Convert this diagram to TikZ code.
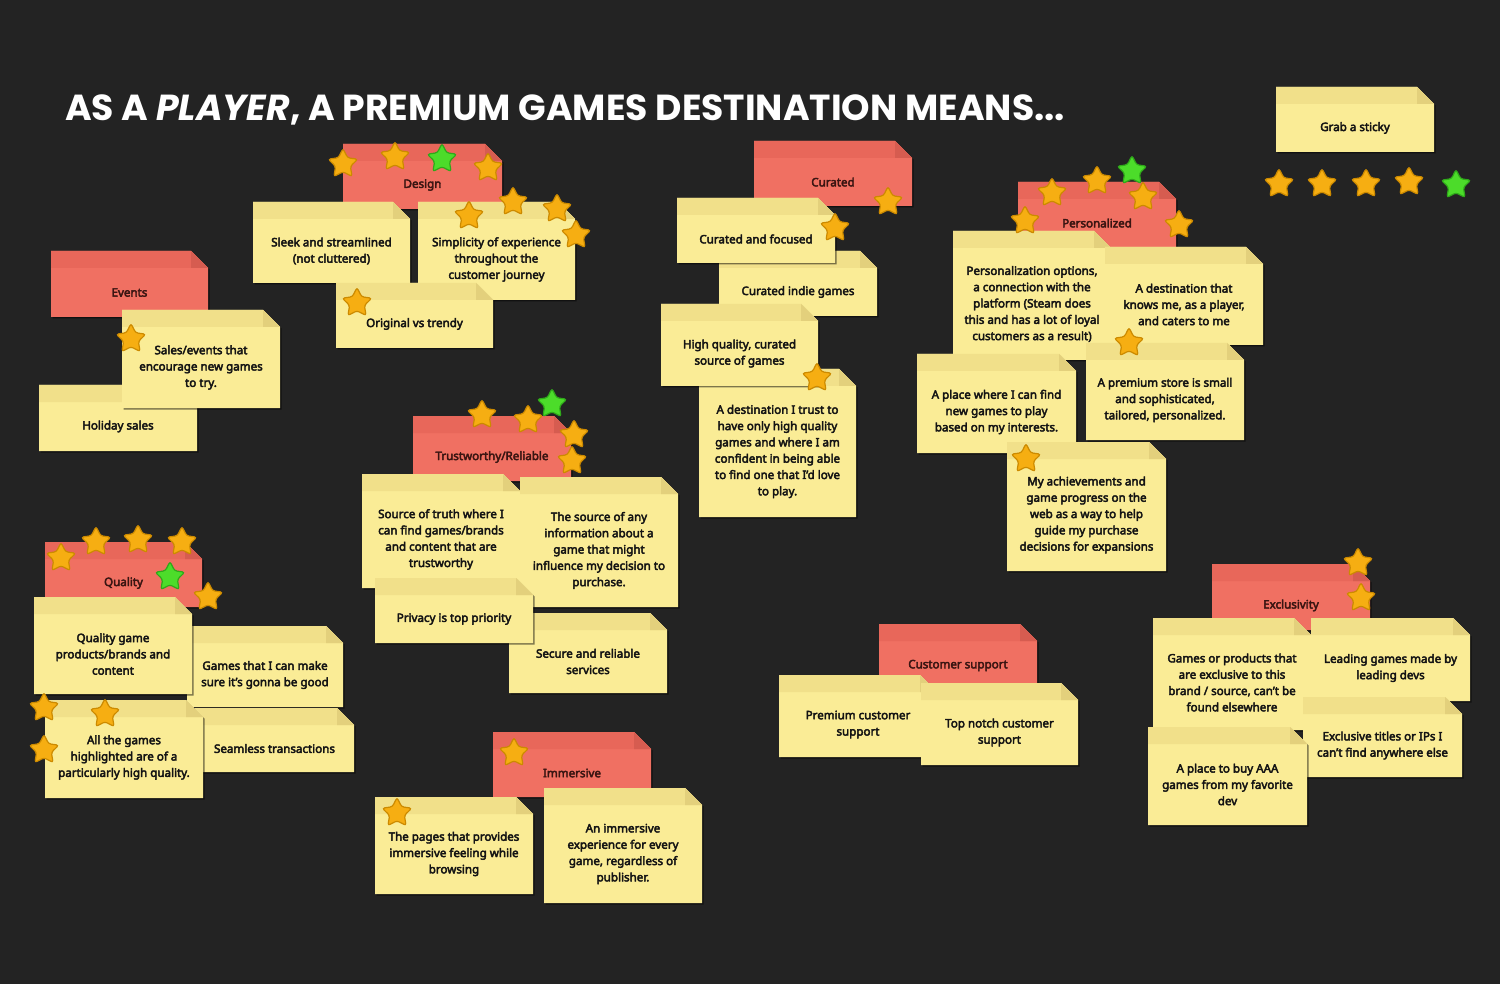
\documentclass[tikz,border=0pt]{standalone}
\usepackage{fontspec}
\setmainfont{Noto Sans}[AutoFakeBold=3.6]
\newfontfamily\titlefont{Poppins}
\usetikzlibrary{shapes.geometric}
\definecolor{bg}{HTML}{232323}
\definecolor{ybody}{HTML}{FAEC96}
\definecolor{yband}{HTML}{F1E08A}
\definecolor{yfold}{HTML}{E3D07C}
\definecolor{rbody}{HTML}{F07062}
\definecolor{rband}{HTML}{E8675A}
\definecolor{rfold}{HTML}{D65C50}
\definecolor{ytxt}{HTML}{141414}
\definecolor{rtxt}{HTML}{3A1512}
\definecolor{sorange}{HTML}{F6AE12}
\definecolor{sorangeD}{HTML}{CC8A00}
\definecolor{sgreen}{HTML}{4CDC2A}
\definecolor{sgreenD}{HTML}{2FA81A}
\tikzset{
  Ybody/.style={fill=ybody}, Yband/.style={fill=yband}, Yfold/.style={fill=yfold},
  Ytext/.style={text=ytxt, align=center, inner sep=0pt, font=\fontsize{11.6}{16.3}\selectfont\bfseries},
  Rbody/.style={fill=rbody}, Rband/.style={fill=rband}, Rfold/.style={fill=rfold},
  Rtext/.style={text=rtxt, align=center, inner sep=0pt, font=\fontsize{11.6}{16.3}\selectfont\bfseries},
  nshadow/.style={fill=black, opacity=0.5},
  ostar/.style={star, star points=5, star point ratio=2.0, minimum size=31pt, inner sep=0pt,
    fill=sorange, draw=sorangeD, line width=1.2pt, rounded corners=2.5pt},
  gstar/.style={ostar, fill=sgreen, draw=sgreenD},
}
% sticky: name, x1, y1, x2, y2, kind (Y/R), text
\newcommand\stk[7]{%
  \fill[nshadow] (#2+1.5,#3+1.5) -- (#4-17+1.5,#3+1.5) -- (#4+1.5,#3+17+1.5) -- (#4+1.5,#5+1.5) -- (#2+1.5,#5+1.5) -- cycle;
  \fill[#6body] (#2,#3) -- (#4-17,#3) -- (#4,#3+17) -- (#4,#5) -- (#2,#5) -- cycle;
  \fill[#6band] (#2,#3) -- (#4-17,#3) -- (#4,#3+17) -- (#2,#3+17) -- cycle;
  \fill[#6fold] (#4-17,#3) -- (#4,#3+17) -- (#4-17,#3+17) -- cycle;
  \node[#6text] (#1) at ({(#2+#4)/2},{(#3+17+#5)/2}) {#7};%
}
\newcommand\stp[4]{\node[#4] (#1) at (#2,#3) {};}
\begin{document}
\begin{tikzpicture}[x=1pt,y=-1pt]
\fill[bg] (0,0) rectangle (1500,984);
\useasboundingbox (0,0) rectangle (1500,984);
\node[anchor=base west, text=white, inner sep=0pt, font=\titlefont\fontsize{36.2}{40}\selectfont\bfseries] (title) at (65,121) {AS A \textit{PLAYER}, A PREMIUM GAMES DESTINATION MEANS...};

% Grab a sticky
\stk{grab}{1276}{87}{1434}{152}{Y}{Grab a sticky}

% Design
\stk{design}{343}{144}{502}{209}{R}{Design}
\stk{sleek}{253}{202}{410}{283}{Y}{Sleek and streamlined\\(not cluttered)}
\stk{simpl}{418}{202}{575}{300}{Y}{Simplicity of experience\\throughout the\\customer journey}
\stk{orig}{336}{283}{493}{348}{Y}{Original vs trendy}

% Events
\stk{events}{51}{251}{208}{317}{R}{Events}
\stk{holiday}{39}{385}{197}{451}{Y}{Holiday sales}
\stk{sales}{122}{310}{280}{408}{Y}{Sales/events that\\encourage new games\\to try.}

% Curated
\stk{curated}{754}{141}{912}{206}{R}{Curated}
\stk{indie}{719}{251}{877}{316}{Y}{Curated indie games}
\stk{focused}{677}{198}{835}{263}{Y}{Curated and focused}
\stk{trust}{699}{369}{856}{517}{Y}{A destination I trust to\\have only high quality\\games and where I am\\confident in being able\\to find one that I'd love\\to play.}
\stk{hq}{661}{304}{818}{386}{Y}{High quality, curated\\source of games}

% Personalized
\stk{personal}{1018}{182}{1176}{247}{R}{Personalized}
\stk{popt}{953}{231}{1111}{360}{Y}{Personalization options,\\a connection with the\\platform (Steam does\\this and has a lot of loyal\\customers as a result)}
\stk{knows}{1105}{247}{1263}{345}{Y}{A destination that\\knows me, as a player,\\and caters to me}
\stk{place}{917}{354}{1076}{453}{Y}{A place where I can find\\new games to play\\based on my interests.}
\stk{small}{1086}{343}{1244}{440}{Y}{A premium store is small\\and sophisticated,\\tailored, personalized.}
\stk{achieve}{1007}{442}{1166}{571}{Y}{My achievements and\\game progress on the\\web as a way to help\\guide my purchase\\decisions for expansions}

% Trustworthy
\stk{trusty}{413}{416}{571}{481}{R}{Trustworthy/Reliable}
\stk{truth}{362}{474}{520}{588}{Y}{Source of truth where I\\can find games/brands\\and content that are\\trustworthy}
\stk{anyinfo}{520}{477}{678}{607}{Y}{The source of any\\information about a\\game that might\\influence my decision to\\purchase.}
\stk{secure}{509}{613}{667}{693}{Y}{Secure and reliable\\services}
\stk{privacy}{375}{578}{533}{643}{Y}{Privacy is top priority}

% Quality
\stk{quality}{45}{542}{202}{607}{R}{Quality}
\stk{makesure}{187}{626}{343}{707}{Y}{Games that I can make\\sure it’s gonna be good}
\stk{qgame}{34}{597}{192}{694}{Y}{Quality game\\products/brands and\\content}
\stk{seamless}{195}{708}{354}{772}{Y}{Seamless transactions}
\stk{allgames}{45}{700}{203}{798}{Y}{All the games\\highlighted are of a\\particularly high quality.}

% Immersive
\stk{immersive}{493}{732}{651}{797}{R}{Immersive}
\stk{pages}{375}{797}{533}{894}{Y}{The pages that provides\\immersive feeling while\\browsing}
\stk{everygame}{544}{788}{702}{903}{Y}{An immersive\\experience for every\\game, regardless of\\publisher.}

% Customer support
\stk{custsup}{879}{624}{1037}{690}{R}{Customer support}
\stk{premcs}{779}{675}{937}{757}{Y}{Premium customer\\support}
\stk{topnotch}{921}{683}{1078}{765}{Y}{Top notch customer\\support}

% Exclusivity
\stk{exclus}{1212}{564}{1370}{630}{R}{Exclusivity}
\stk{exprod}{1153}{618}{1311}{730}{Y}{Games or products that\\are exclusive to this\\brand / source, can’t be\\found elsewhere}
\stk{leading}{1311}{618}{1470}{701}{Y}{Leading games made by\\leading devs}
\stk{extitles}{1303}{697}{1462}{777}{Y}{Exclusive titles or IPs I\\can’t find anywhere else}
\stk{aaa}{1148}{727}{1307}{825}{Y}{A place to buy AAA\\games from my favorite\\dev}

% Stars
\stp{g1}{1279}{184}{ostar}
\stp{g2}{1322}{184}{ostar}
\stp{g3}{1366}{184}{ostar}
\stp{g4}{1409}{182}{ostar}
\stp{g5}{1456}{185}{gstar}
\stp{d1}{343}{164}{ostar}
\stp{d2}{395}{157}{ostar}
\stp{d3}{442}{159}{gstar}
\stp{d4}{488}{168}{ostar}
\stp{d5}{469}{216}{ostar}
\stp{d6}{513}{202}{ostar}
\stp{d7}{557}{209}{ostar}
\stp{d8}{576}{235}{ostar}
\stp{d9}{357}{303}{ostar}
\stp{e1}{131}{339}{ostar}
\stp{c1}{888}{202}{ostar}
\stp{c2}{835}{228}{ostar}
\stp{c3}{817}{378}{ostar}
\stp{p1}{1025}{221}{ostar}
\stp{p2}{1052}{193}{ostar}
\stp{p3}{1097}{181}{ostar}
\stp{p4}{1132}{171}{gstar}
\stp{p5}{1143}{197}{ostar}
\stp{p6}{1179}{225}{ostar}
\stp{p7}{1129}{343}{ostar}
\stp{p8}{1026}{459}{ostar}
\stp{t1}{482}{415}{ostar}
\stp{t2}{528}{420}{ostar}
\stp{t3}{552}{404}{gstar}
\stp{t4}{574}{435}{ostar}
\stp{t5}{572}{461}{ostar}
\stp{q1}{61}{558}{ostar}
\stp{q2}{96}{542}{ostar}
\stp{q3}{138}{540}{ostar}
\stp{q4}{182}{542}{ostar}
\stp{q5}{170}{577}{gstar}
\stp{q6}{208}{597}{ostar}
\stp{q7}{44}{708}{ostar}
\stp{q8}{105}{714}{ostar}
\stp{q9}{44}{750}{ostar}
\stp{i1}{514}{753}{ostar}
\stp{i2}{397}{813}{ostar}
\stp{x1}{1358}{563}{ostar}
\stp{x2}{1361}{598}{ostar}
\end{tikzpicture}
\end{document}
